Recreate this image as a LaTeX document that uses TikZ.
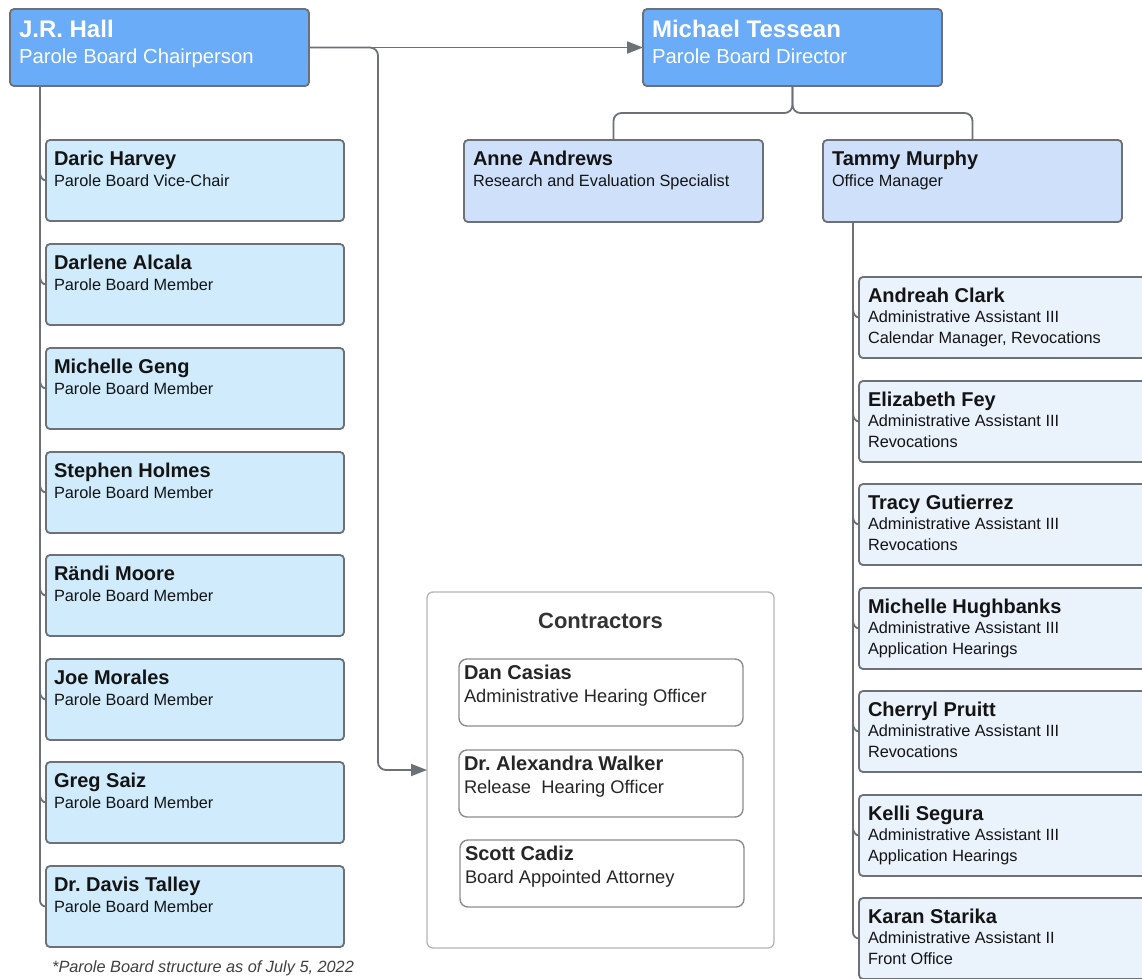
\documentclass[tikz,border=0pt]{standalone}
\usepackage{fontspec}
\setmainfont{Liberation Sans}
\usetikzlibrary{arrows.meta,calc}
\frenchspacing
\definecolor{topfill}{HTML}{6AACF8}
\definecolor{memfill}{HTML}{CFEBFC}
\definecolor{midfill}{HTML}{CFE1FA}
\definecolor{rfill}{HTML}{EAF2FC}
\definecolor{bordc}{HTML}{6C7077}
\definecolor{lnc}{HTML}{6C7077}
\definecolor{cbord}{HTML}{B5B5B5}
\definecolor{ibord}{HTML}{8C8C8C}
\definecolor{txtc}{HTML}{141414}
\newcommand{\nmA}[1]{{\fontsize{24}{28}\selectfont\bfseries\rule{0pt}{18pt}#1}}
\newcommand{\nmB}[1]{{\fontsize{20}{24}\selectfont\bfseries\rule{0pt}{15pt}#1}}
\tikzset{
 card/.style={draw=bordc, line width=1.8pt, rounded corners=4pt, inner sep=0pt, outer sep=0pt, anchor=north west, minimum width=298pt, minimum height=81pt},
 topcard/.style={card, fill=topfill, minimum width=299pt, minimum height=77pt},
 memcard/.style={card, fill=memfill},
 midcard/.style={card, fill=midfill, minimum width=299pt, minimum height=82pt},
 rcard/.style={card, fill=rfill, minimum width=300pt},
 ccard/.style={draw=ibord, line width=1.4pt, rounded corners=8pt, fill=white, inner sep=0pt, outer sep=0pt, anchor=north west, minimum width=284pt, minimum height=67pt},
 lbl/.style={anchor=north west, inner sep=0pt, outer sep=0pt, align=left, text=txtc},
 toplbl/.style={lbl, text=white, font=\fontsize{20.3}{26}\selectfont},
 memlbl/.style={lbl, font=\fontsize{16.3}{21}\selectfont},
 rlbl/.style={lbl, font=\fontsize{16.3}{20.5}\selectfont},
 clbl/.style={lbl, text=black!85, font=\fontsize{18.3}{23}\selectfont},
 conn/.style={draw=lnc, line width=1.8pt},
 arr/.style={conn, -{Triangle[length=16pt,width=12pt]}},
}
\newcommand{\member}[4]{%
 \node[memcard] (#1) at (46,#2) {};
 \node[memlbl] (#1-t) at ([shift={(8,10.5)}]#1.north west) {\nmB{#3}\\#4};
}
\newcommand{\staff}[5]{%
 \node[rcard] (#1) at (859,#2) {};
 \node[rlbl] (#1-t) at ([shift={(9,10)}]#1.north west) {\nmB{#3}\\#4\\#5};
}
\newcommand{\contractor}[5]{%
 \node[ccard] (#1) at (#2,#3) {};
 \node[clbl] (#1-t) at ([shift={(5,5.5)}]#1.north west) {\nmB{#4}\\#5};
}
\begin{document}
\begin{tikzpicture}[x=1pt,y=-1pt]
\useasboundingbox (0,0) rectangle (1142,978);
\clip (0,0) rectangle (1142,978);
\fill[white] (0,0) rectangle (1142,978);

% top level
\node[topcard] (jr) at (10,9) {};
\node[toplbl] (jr-t) at ([shift={(9,10)}]jr.north west) {\nmA{J.R. Hall}\\Parole Board Chairperson};
\node[topcard] (mt) at (643,9) {};
\node[toplbl] (mt-t) at ([shift={(9,10)}]mt.north west) {\nmA{Michael Tessean}\\Parole Board Director};

% board members
\member{d1}{140}{Daric Harvey}{Parole Board Vice-Chair}
\member{d2}{244}{Darlene Alcala}{Parole Board Member}
\member{d3}{348}{Michelle Geng}{Parole Board Member}
\member{d4}{452}{Stephen Holmes}{Parole Board Member}
\member{d5}{555}{Rändi Moore}{Parole Board Member}
\member{d6}{659}{Joe Morales}{Parole Board Member}
\member{d7}{762}{Greg Saiz}{Parole Board Member}
\member{d8}{866}{Dr. Davis Talley}{Parole Board Member}

% director reports
\node[midcard] (aa) at (464,140) {};
\node[memlbl] (aa-t) at ([shift={(9,10.5)}]aa.north west) {\nmB{Anne Andrews}\\Research and Evaluation Specialist};
\node[midcard] (tm) at (823,140) {};
\node[memlbl] (tm-t) at ([shift={(9,10.5)}]tm.north west) {\nmB{Tammy Murphy}\\Office Manager};

% office staff
\staff{s1}{277}{Andreah Clark}{Administrative Assistant III}{Calendar Manager, Revocations}
\staff{s2}{381}{Elizabeth Fey}{Administrative Assistant III}{Revocations}
\staff{s3}{484}{Tracy Gutierrez}{Administrative Assistant III}{Revocations}
\staff{s4}{588}{Michelle Hughbanks}{Administrative Assistant III}{Application Hearings}
\staff{s5}{691}{Cherryl Pruitt}{Administrative Assistant III}{Revocations}
\staff{s6}{795}{Kelli Segura}{Administrative Assistant III}{Application Hearings}
\staff{s7}{898}{Karan Starika}{Administrative Assistant II}{Front Office}

% contractors
\node[draw=cbord, line width=1.3pt, rounded corners=6pt, fill=white, anchor=north west, inner sep=0pt, outer sep=0pt, minimum width=347pt, minimum height=356pt] (contr) at (427,592) {};
\node[anchor=base, inner sep=0pt, font=\fontsize{22}{26}\selectfont\bfseries, text=black!80] (contr-h) at (600.5,628) {Contractors};
\contractor{c1}{459}{659}{Dan Casias}{Administrative Hearing Officer}
\contractor{c2}{459}{750}{Dr. Alexandra Walker}{Release~ Hearing Officer}
\contractor{c3}{460}{840}{Scott Cadiz}{Board Appointed Attorney}

% connectors from chairperson
\draw[arr] (jr.east) -- (mt.west);
\coordinate (split) at (378,47.5);
\draw[arr, rounded corners=8pt] (jr.east) -- (split) |- (contr.west);
\draw[conn, rounded corners=6pt] ([xshift=30pt]jr.south west) |- (d8.west);
\foreach \b in {d1,d2,d3,d4,d5,d6,d7}
  \draw[conn] ([shift={(-6,-8)}]\b.west) to[out=-90,in=180] (\b.west);

% connectors from director
\coordinate (bus) at (0,113);
\draw[conn, rounded corners=8pt] (mt.south) |- (aa.north |- bus) -- (aa.north);
\draw[conn, rounded corners=8pt] (mt.south) |- (tm.north |- bus) -- (tm.north);

% connectors from office manager
\draw[conn, rounded corners=6pt] ([xshift=30pt]tm.south west) |- (s7.west);
\foreach \b in {s1,s2,s3,s4,s5,s6}
  \draw[conn] ([shift={(-6,-8)}]\b.west) to[out=-90,in=180] (\b.west);

% footnote
\node[anchor=base west, inner sep=0pt, font=\fontsize{16.3}{20}\selectfont\itshape, text=black!75] (note) at (52,972) {*Parole Board structure as of July 5, 2022};
\end{tikzpicture}
\end{document}
